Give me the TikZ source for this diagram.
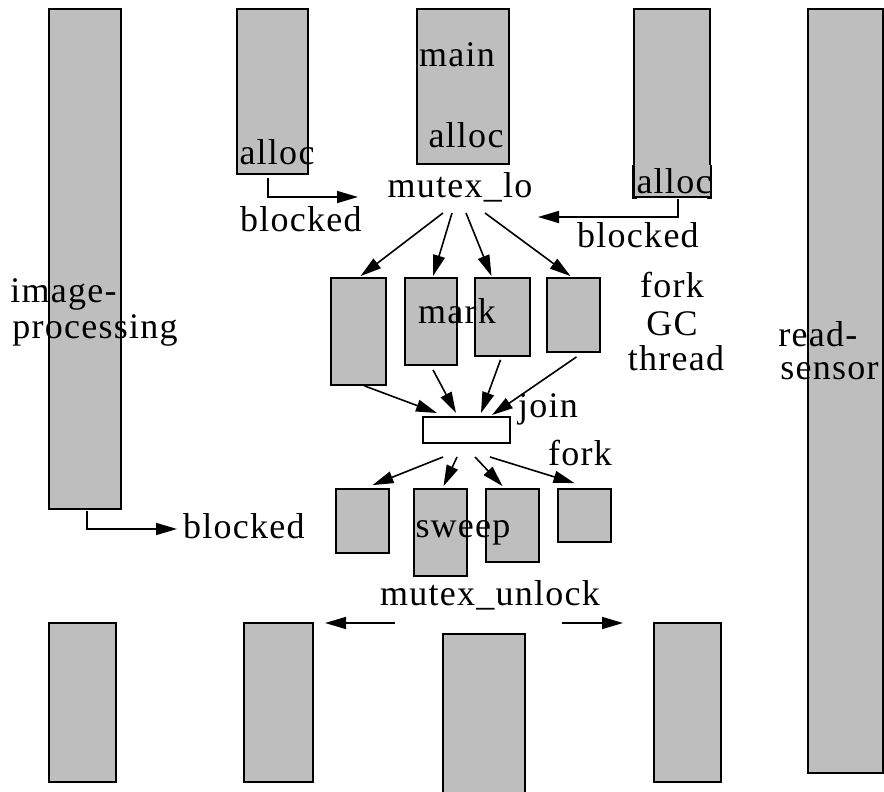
\documentclass[tikz,border=0pt]{standalone}
\usepackage{fontspec}
\setmainfont[LetterSpace=3.5]{Liberation Serif}
\usetikzlibrary{arrows.meta,fit,calc}
\definecolor{boxgray}{RGB}{190,190,190}
\newcommand\lblfont{\fontsize{18}{21}\selectfont}
\begin{document}
\begin{tikzpicture}[x=0.5pt,y=-0.5pt,
  gbox/.style={draw, fill=boxgray, line width=0.9pt, inner sep=0pt, rectangle},
  wbox/.style={gbox, fill=white},
  edge/.style={line width=0.9pt},
  lbl/.style={font=\lblfont, inner sep=0pt, anchor=base},
  lblw/.style={font=\lblfont, inner sep=0pt, anchor=base west},
  arr/.style={line width=0.8pt, -{Triangle[length=10.5pt,width=6pt]}},
]
\useasboundingbox (0,0) rectangle (884,792);
% threads
\node[gbox, fit={(49,9)(121,509)}] (imgp) {};
\node[gbox, fit={(237,9)(308,174)}] (t1) {};
\node[gbox, fit={(417,9)(509,164)}] (mainb) {};
\node[gbox, fit={(634,9)(710,197)}] (t3) {};
\node[gbox, fit={(808,9)(883,773)}] (rs) {};
\node[gbox, fit={(49,623)(116,782)}] (b1) {};
\node[gbox, fit={(244,623)(313,782)}] (b2) {};
\node[gbox, fit={(443,634)(525,800)}] (b3) {};
\node[gbox, fit={(654,623)(721,782)}] (b4) {};
% mark threads
\node[gbox, fit={(331,278)(386,385)}] (mA) {};
\node[gbox, fit={(405,278)(457,365)}] (mB) {};
\node[gbox, fit={(475,278)(530,356)}] (mC) {};
\node[gbox, fit={(547,278)(600,352)}] (mD) {};
% join
\node[wbox, fit={(423,417)(510,443)}] (join) {};
% sweep threads
\node[gbox, fit={(336,489)(389,553)}] (sA) {};
\node[gbox, fit={(414,489)(467,576)}] (sB) {};
\node[gbox, fit={(486,489)(539,562)}] (sC) {};
\node[gbox, fit={(558,489)(611,542)}] (sD) {};
% labels
\node[lbl] (lmain) at (457,67) {main};
\node[lbl] (lalloc2) at (466,148) {alloc};
\node[lbl] (lalloc1) at (277,165) {alloc};
\node[lbl, fill=boxgray, inner xsep=0pt, inner ysep=1.5pt] (lalloc3) at (674,193) {alloc};
\draw[edge] (lalloc3.north -| t3.west) -- (t3.south west) -- ++(4,0);
\draw[edge] (lalloc3.north -| t3.east) -- (t3.south east) -- ++(-4,0);
\node[lbl] (ml) at (460,198) {mutex\_lo};
\node[lbl] (blk1) at (301,231) {blocked};
\node[lbl] (blk2) at (638,247) {blocked};
\node[lbl] (lmark) at (457,323) {mark};
\node[lbl] (lfork1) at (672,297) {fork};
\node[lbl] (lgc) at (672,335) {GC};
\node[lbl] (lthread) at (676,370) {thread};
\node[lbl] (ljoin) at (548,417) {join};
\node[lbl] (lfork2) at (580,465) {fork};
\node[lbl] (lsweep) at (463,537) {sweep};
\node[lbl] (mu) at (490,605) {mutex\_unlock};
\node[lbl] (blk3) at (244,538) {blocked};
\node[lblw] (limg1) at (10,302) {image-};
\node[lblw] (limg2) at (12,338) {processing};
\node[lblw] (lrs1) at (778,346) {read-};
\node[lblw] (lrs2) at (780,379) {sensor};
% connector end points
\coordinate (a1s) at (268,178);
\coordinate (a1e) at (358,197);
\coordinate (a2s) at (678,199);
\coordinate (a2e) at (538,217);
\coordinate (a3s) at (87,511);
\coordinate (a3e) at (177,529);
\coordinate (f1) at (443,213);
\coordinate (f2) at (452,213);
\coordinate (f3) at (466,213);
\coordinate (f4) at (485,213);
\coordinate (j1) at (437,413);
\coordinate (j2) at (456,413);
\coordinate (j3) at (481,413);
\coordinate (j4) at (492,415);
\coordinate (k1) at (443,457);
\coordinate (k2) at (457,457);
\coordinate (k3) at (475,457);
\coordinate (k4) at (490,457);
\coordinate (u1) at (395,623);
\coordinate (u1e) at (325,623);
\coordinate (u2) at (562,623);
\coordinate (u2e) at (623,623);
% blocked arrows
\draw[arr] (a1s) |- (a1e);
\draw[arr] (a2s) |- (a2e);
\draw[arr] (a3s) |- (a3e);
% fork to mark threads
\draw[arr] (f1) -- ($(mA.north)+(2,-1)$);
\draw[arr] (f2) -- ($(mB.north)+(2,-1)$);
\draw[arr] (f3) -- ($(mC.north)+(-11,-1)$);
\draw[arr] (f4) -- ($(mD.north)+(-3,-1)$);
% join
\draw[arr] ($(mA.south)+(6,0)$) -- (j1);
\draw[arr] ($(mB.south)+(2,4)$) -- (j2);
\draw[arr] ($(mC.south)+(-2,3)$) -- (j3);
\draw[arr] ($(mD.south)+(3,4)$) -- (j4);
% fork to sweep threads
\draw[arr] (k1) -- ($(sA.north)+(10,-3)$);
\draw[arr] (k2) -- ($(sB.north)+(3,-2)$);
\draw[arr] (k3) -- ($(sC.north)+(-10,-2)$);
\draw[arr] (k4) -- ($(sD.north)+(-10,-5)$);
% unlock
\draw[arr] (u1) -- (u1e);
\draw[arr] (u2) -- (u2e);
\end{tikzpicture}
\end{document}
